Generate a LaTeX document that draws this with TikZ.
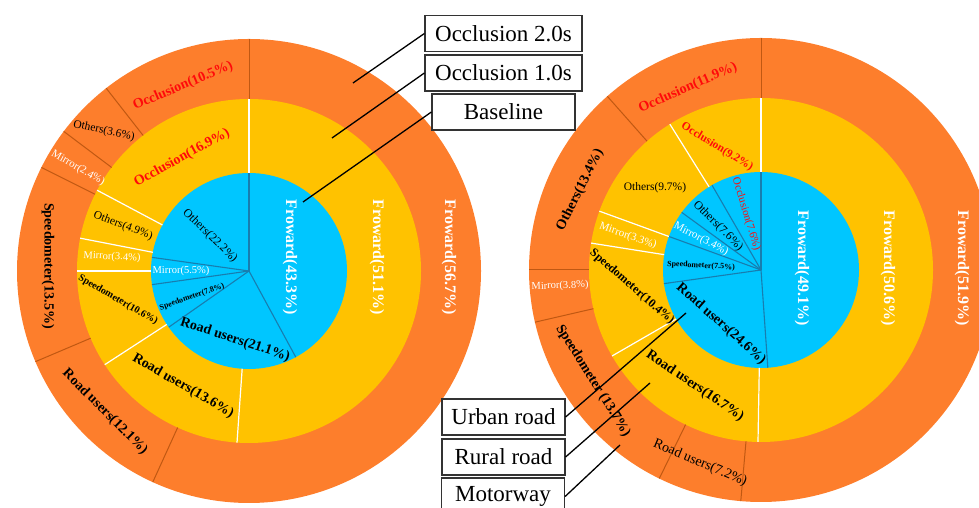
\documentclass[tikz,border=0pt]{standalone}
\usepackage{fontspec}
\setmainfont{Liberation Serif}
\usepackage{xcolor}
\definecolor{colorBaseline}{RGB}{0,198,255}
\definecolor{colorOneSec}{RGB}{255,194,0}
\definecolor{colorTwoSec}{RGB}{253,126,44}
\definecolor{colorOcclusion}{RGB}{255,10,10}
\definecolor{colorBaseSep}{RGB}{24,125,175}
\definecolor{colorTwoSep}{RGB}{192,88,18}
\usepackage{tikz}
\tikzset{
  lbl/.style={inner sep=0pt, font=\bfseries\fontsize{#1}{#1}\selectfont},
  lbl/.default=14,
  thin/.style={inner sep=0pt, font=\fontsize{#1}{#1}\selectfont},
  thin/.default=11.5,
  sepbase/.style={colorBaseSep, line width=1.1pt},
  sepone/.style={white, line width=1.2pt},
  septwo/.style={colorTwoSep, line width=1pt},
  legendbox/.style={draw=black!80, line width=1.2pt, fill=white, inner sep=0pt, minimum height=36pt, font=\fontsize{23}{23}\selectfont},
  leader/.style={black, line width=1.3pt}
}

\begin{document}
\begin{tikzpicture}[x=1pt, y=1pt]
\useasboundingbox (0,0) rectangle (979,508);
\clip (0,0) rectangle (979,508);
\coordinate (c1) at (249,237);
\coordinate (c2) at (761,238);
% rings: occlusion 2.0s, occlusion 1.0s, baseline
\foreach \ctr in {c1,c2}{
  \fill[colorTwoSec] (\ctr) circle[radius=232];
  \fill[colorOneSec] (\ctr) circle[radius=172];
  \fill[colorBaseline] (\ctr) circle[radius=98];
}
% sector borders
\foreach \ctr/\rin/\rout/\sty/\angles in {
  c1/0/98/sepbase/{90,-61.5,-145,-172,172},
  c1/98/172/sepone/{90,-94,-147,180,169,152},
  c1/172/232/septwo/{90,-114.5,-157,153.5,143,128},
  c2/0/98/sepbase/{90,-86,-172,160,144,120},
  c2/98/172/sepone/{90,-91,-150,171,160,122},
  c2/172/232/septwo/{90,-95,-116,-167,180,131.5}}
  \foreach \a in \angles
    \draw[\sty] ([shift={(\a:\rin)}]\ctr) -- ([shift={(\a:\rout)}]\ctr);

% urban road, baseline
\node[lbl=16, white, rotate=-90] (fwdBaseU) at (290,251) {Froward(43.3\%)};
\node[thin=12, rotate=-44] (othBaseU) at (210,272) {Others(22.2\%)};
\node[thin=10.5, white] (mirBaseU) at (181,237) {Mirror(5.5\%)};
\node[lbl=8, rotate=19.5] (spdBaseU) at (192,211) {Speedometer(7.8\%)};
\node[lbl, rotate=-18] (roadBaseU) at (235,168) {Road users(21.1\%)};
% urban road, occlusion 1.0s
\node[lbl=16, white, rotate=-90] (fwdOneU) at (377,251) {Froward(51.1\%)};
\node[lbl, colorOcclusion, rotate=29] (occOneU) at (182,350) {Occlusion(16.9\%)};
\node[thin, rotate=-21] (othOneU) at (123,282) {Others(4.9\%)};
\node[thin=10.5, white, rotate=-3] (mirOneU) at (112,251) {Mirror(3.4\%)};
\node[lbl=10, rotate=-30] (spdOneU) at (118,208) {Speedometer(10.6\%)};
\node[lbl, rotate=-30] (roadOneU) at (183,122) {Road users(13.6\%)};
% urban road, occlusion 2.0s
\node[lbl=16, white, rotate=-90] (fwdTwoU) at (449,251) {Froward(56.7\%)};
\node[lbl, colorOcclusion, rotate=23] (occTwoU) at (183,422) {Occlusion(10.5\%)};
\node[thin, rotate=-12] (othTwoU) at (104,377) {Others(3.6\%)};
\node[thin=11, white, rotate=-30] (mirTwoU) at (78,340) {Mirror(2.4\%)};
\node[lbl, rotate=-90] (spdTwoU) at (48,242) {Speedometer(13.5\%)};
\node[lbl, rotate=-45] (roadTwoU) at (105,96) {Road users(12.1\%)};

% rural road, baseline
\node[lbl=16, white, rotate=-90] (fwdBaseR) at (802,240) {Froward(49.1\%)};
\node[lbl, rotate=-41.5] (roadBaseR) at (721,184) {Road users(24.6\%)};
\node[lbl=8, rotate=-3] (spdBaseR) at (701,242) {Speedometer(7.5\%)};
\node[thin=11, white, rotate=-27] (mirBaseR) at (701,269) {Mirror(3.4\%)};
\node[thin=12, rotate=-45] (othBaseR) at (718,282) {Others(7.6\%)};
\node[thin=11, colorOcclusion, rotate=-73] (occBaseR) at (746,294) {Occlusion(7.6\%)};
% rural road, occlusion 1.0s
\node[lbl=16, white, rotate=-90] (fwdOneR) at (888,240) {Froward(50.6\%)};
\node[lbl, rotate=-34] (roadOneR) at (695,122) {Road users(16.7\%)};
\node[lbl=12, rotate=-41] (spdOneR) at (632,221) {Speedometer(10.4\%)};
\node[thin=11, white, rotate=-19] (mirOneR) at (628,272) {Mirror(3.3\%)};
\node[thin] (othOneR) at (655,320) {Others(9.7\%)};
\node[lbl=11.5, colorOcclusion, rotate=-31.5] (occOneR) at (717,361) {Occlusion(9.2\%)};
% rural road, occlusion 2.0s
\node[lbl=16, white, rotate=-90] (fwdTwoR) at (962,240) {Froward(51.9\%)};
\node[thin=14, rotate=-23] (roadTwoR) at (700,45) {Road users(7.2\%)};
\node[lbl, rotate=-58] (spdTwoR) at (593,127) {Speedometer (13.7\%)};
\node[thin=10.5, white, rotate=2] (mirTwoR) at (560,222) {Mirror(3.8\%)};
\node[lbl, rotate=63.4] (othTwoR) at (580,318) {Others(13.4\%)};
\node[lbl, colorOcclusion, rotate=24] (occTwoR) at (688,420) {Occlusion(11.9\%)};

% legends
\node[legendbox, minimum width=157pt] (boxTwo) at (503.5,474.5) {Occlusion 2.0s};
\node[legendbox, minimum width=157pt] (boxOne) at (503.5,435) {Occlusion 1.0s};
\node[legendbox, minimum width=143pt] (boxBase) at (503.5,396) {Baseline};
\node[legendbox, minimum width=123pt] (boxUrban) at (503.5,91) {Urban road};
\node[legendbox, minimum width=123pt] (boxRural) at (503.5,51) {Rural road};
\node[legendbox, minimum width=123pt, minimum height=37pt] (boxMotor) at (503,11.5) {Motorway};
\coordinate (ptTwo) at (353,425);
\coordinate (ptOne) at (332,370);
\coordinate (ptBase) at (303,306);
\coordinate (ptUrban) at (686,195);
\coordinate (ptRural) at (650,125);
\coordinate (ptMotor) at (620,63);
\draw[leader] (boxTwo.west) -- (ptTwo);
\draw[leader] (boxOne.west) -- (ptOne);
\draw[leader] (boxBase.west) -- (ptBase);
\draw[leader] (boxUrban.east) -- (ptUrban);
\draw[leader] (boxRural.east) -- (ptRural);
\draw[leader] (boxMotor.east) -- (ptMotor);
\end{tikzpicture}
\end{document}
